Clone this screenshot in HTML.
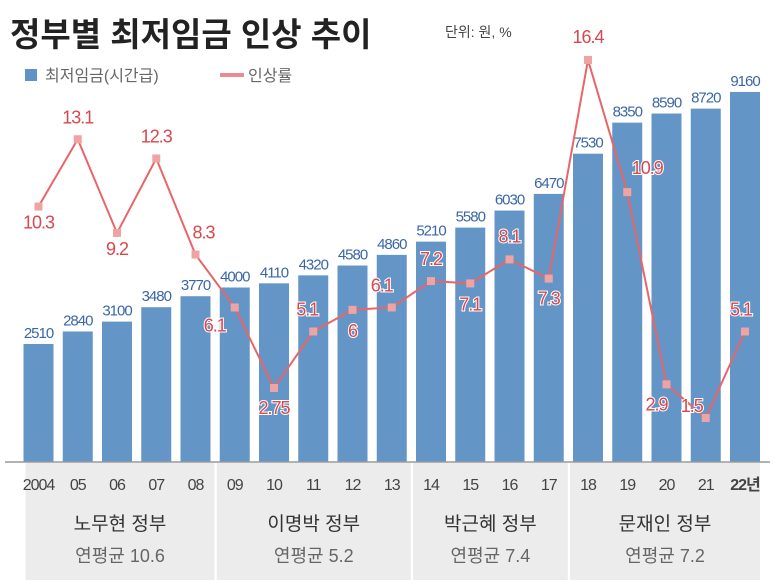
<!DOCTYPE html>
<html><head><meta charset="utf-8"><style>
body{margin:0;background:#fff;width:776px;height:582px;overflow:hidden;font-family:"Liberation Sans","Noto Sans CJK KR",sans-serif}
svg text{font-family:"Liberation Sans","Noto Sans CJK KR",sans-serif}
</style></head><body>
<svg id="c" width="776" height="582" viewBox="0 0 776 582">
<text x="10" y="46" font-size="33" font-weight="bold" fill="#222">정부별 최저임금 인상 추이</text>
<text x="445" y="37" font-size="14" fill="#444">단위: 원, %</text>
<g>
<rect x="25" y="69" width="12" height="12" fill="#5f93c5"/>
<text x="45" y="81" font-size="16" fill="#666">최저임금(시간급)</text>
<rect x="220" y="73" width="24" height="4" fill="#ec8a91"/>
<text x="248" y="81" font-size="16" fill="#666">인상률</text>
</g>
<g id="panels"></g>
<g id="bars"></g>
<line x1="5" y1="462" x2="770" y2="462" stroke="#999" stroke-width="1.5"/>
<g id="line"></g>
</svg>
<script>
const years=["2004","05","06","07","08","09","10","11","12","13","14","15","16","17","18","19","20","21","22년"];
const wages=[2510,2840,3100,3480,3770,4000,4110,4320,4580,4860,5210,5580,6030,6470,7530,8350,8590,8720,9160];
const rates=[10.3,13.1,9.2,12.3,8.3,6.1,2.75,5.1,6,6.1,7.2,7.1,8.1,7.3,16.4,10.9,2.9,1.5,5.1];
const rateLabels=["10.3","13.1","9.2","12.3","8.3","6.1","2.75","5.1","6","6.1","7.2","7.1","8.1","7.3","16.4","10.9","2.9","1.5","5.1"];
const govNames=["노무현 정부","이명박 정부","박근혜 정부","문재인 정부"];
const govAvgs=["연평균 10.6","연평균 5.2","연평균 7.4","연평균 7.2"];
const govSpans=[[0,4],[5,9],[10,13],[14,18]];
const NS="http://www.w3.org/2000/svg";
const base=462,pitch=39.25,x0=23.5,bw=30;
const xL=i=>x0+i*pitch, xC=i=>xL(i)+bw/2;
const yW=v=>base-(22.9+0.0379*v);
const yR=r=>418+(1.5-r)*24.03;
function mk(tag,attrs,parent){const e=document.createElementNS(NS,tag);for(const k in attrs)e.setAttribute(k,attrs[k]);parent.appendChild(e);return e;}
const P=document.getElementById('panels'),B=document.getElementById('bars'),L=document.getElementById('line');
govSpans.forEach((s,g)=>{
 const a=g===0?xL(s[0])+2:xL(s[0])-3, b=g===3?xL(s[1])+bw:xL(s[1])+bw+4;
 const r=mk('rect',{x:a,y:463,width:b-a,height:117,fill:'#ececec'},P);
 
 
 const c=(a+b)/2;
 const t1=mk('text',{x:c,y:530,'font-size':19,fill:'#333','text-anchor':'middle'},P);t1.textContent=govNames[g];
 
 
 const t2=mk('text',{x:c,y:562,'font-size':18,fill:'#666','text-anchor':'middle'},P);t2.textContent=govAvgs[g];
 
 
});
years.forEach((y,i)=>{
 const r=mk('rect',{x:xL(i),y:yW(wages[i]),width:bw,height:base-yW(wages[i]),fill:'#6396c6'},B);
 
 
 const t=mk('text',{x:xC(i),y:yW(wages[i])-6,'font-size':15,fill:'#3a66a8','text-anchor':'middle','letter-spacing':'-1'},B);t.textContent=wages[i];
 
 
 const yt=mk('text',{x:xC(i),y:490,'font-size':16,fill:'#444','text-anchor':'middle','letter-spacing':'-1','font-weight':i===18?'bold':'normal'},B);yt.textContent=y;
 
 
});
const pts=rates.map((r,i)=>xC(i)+','+yR(r)).join(' ');
const pl=mk('polyline',{points:pts,fill:'none',stroke:'#e8656a','stroke-width':2},L);


const off=[[0,22],[0,-16],[0,22],[0,-16],[8,-16],[-20,24],[0,26],[-6,-16],[0,27],[-10,-16],[0,-16],[0,27],[0,-17],[0,26],[0,-17],[20,-18],[-10,26],[-14,-6],[-4,-16]];
rates.forEach((r,i)=>{
 const m=mk('rect',{x:xC(i)-4,y:yR(r)-4,width:8,height:8,fill:'#f0a3a3'},L);
 
 
 const t=mk('text',{x:xC(i)+off[i][0],y:yR(r)+off[i][1],'font-size':18,fill:'#d9474f','text-anchor':'middle',stroke:'#fff','stroke-width':2,'paint-order':'stroke','letter-spacing':'-1'},L);t.textContent=rateLabels[i];
 
 
});
</script>
</body></html>
